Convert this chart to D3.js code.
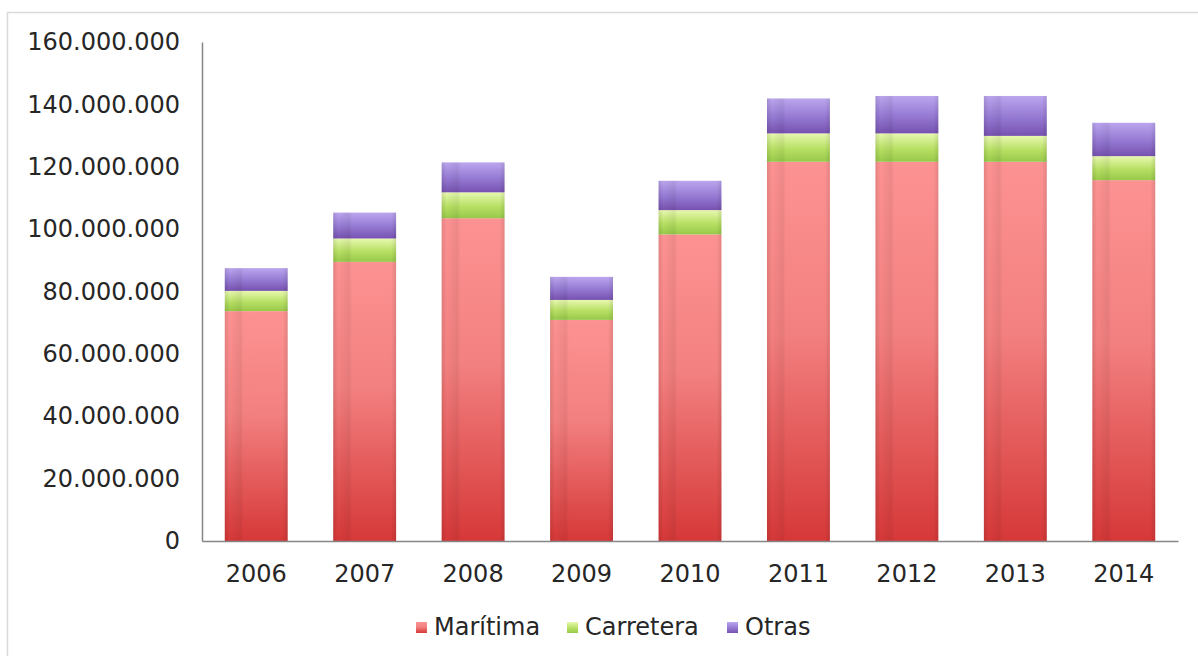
<!DOCTYPE html>
<html>
<head>
<meta charset="utf-8">
<script src="https://cdn.jsdelivr.net/npm/d3@7"></script>
<style>
  html, body { margin: 0; padding: 0; background: #fff; }
  svg { display: block; font-family: "DejaVu Sans", Verdana, sans-serif; }
</style>
</head>
<body>
<svg id="chart" width="1198" height="656"></svg>
<script>
// Tráfico por modo de transporte, 2006-2014
const years = ["2006", "2007", "2008", "2009", "2010", "2011", "2012", "2013", "2014"];
const maritima  = [73.7e6, 89.5e6, 103.5e6, 70.9e6, 98.3e6, 121.6e6, 121.6e6, 121.6e6, 115.7e6];
const carretera = [6.5e6, 7.5e6, 8.3e6, 6.4e6, 7.8e6, 9.1e6, 9.1e6, 8.3e6, 7.7e6];
const otras     = [7.3e6, 8.3e6, 9.6e6, 7.4e6, 9.4e6, 11.2e6, 12.0e6, 12.8e6, 10.7e6];
const seriesNames = ["Marítima", "Carretera", "Otras"];
const yTicks = [0, 20e6, 40e6, 60e6, 80e6, 100e6, 120e6, 140e6, 160e6];

const W = 1198, H = 656;
const m = { left: 202, right: 20, top: 42, bottom: 115 };
const FONT = "'DejaVu Sans', Verdana, sans-serif";
const FS = 24;

const svg = d3.select("#chart");
const defs = svg.append("defs");

// vertical gradients for each series (light at top, deeper at bottom)
const grads = [
  { id: "g-mar", stops: [["0%", "#fd9292"], ["45%", "#f38080"], ["100%", "#d63838"]] },
  { id: "g-car", stops: [["0%", "#e8f8b0"], ["55%", "#b7e063"], ["100%", "#98c94a"]] },
  { id: "g-otr", stops: [["0%", "#bba6ee"], ["55%", "#9478d2"], ["100%", "#7752b0"]] }
];
grads.forEach(g => {
  const lg = defs.append("linearGradient").attr("id", g.id)
    .attr("x1", 0).attr("y1", 0).attr("x2", 0).attr("y2", 1);
  g.stops.forEach(([o, c]) => lg.append("stop").attr("offset", o).attr("stop-color", c));
});
// soft horizontal shading across each column
const shade = defs.append("linearGradient").attr("id", "g-shade")
  .attr("x1", 0).attr("y1", 0).attr("x2", 1).attr("y2", 0);
[["0%", 0.10], ["8%", 0.0], ["25%", 0.06], ["30%", 0.0], ["92%", 0.0], ["100%", 0.10]].forEach(([o, a]) =>
  shade.append("stop").attr("offset", o).attr("stop-color", "#000").attr("stop-opacity", a));

// outer frame
svg.append("rect")
  .attr("x", 7.5).attr("y", 12.5).attr("width", W + 10).attr("height", H + 10)
  .attr("fill", "none").attr("stroke", "#d9d9d9").attr("stroke-width", 1.5);

const x = d3.scaleBand().domain(years).range([m.left, W - m.right]).paddingInner(0.42).paddingOuter(0.21);
// zero line sits at y = 541
const y = d3.scaleLinear().domain([0, 160e6]).range([541, m.top]);

const table = years.map((yr, i) => ({ year: yr, "Marítima": maritima[i], "Carretera": carretera[i], "Otras": otras[i] }));
const stacked = d3.stack().keys(seriesNames)(table);
const fills = ["url(#g-mar)", "url(#g-car)", "url(#g-otr)"];

const layers = svg.append("g").selectAll("g").data(stacked).join("g")
  .attr("fill", (d, i) => fills[i]);
layers.selectAll("rect").data(d => d).join("rect")
  .attr("x", d => x(d.data.year))
  .attr("width", x.bandwidth())
  .attr("y", d => y(d[1]))
  .attr("height", d => y(d[0]) - y(d[1]));

// column shading overlay
const total = d => d["Marítima"] + d["Carretera"] + d["Otras"];
svg.append("g").selectAll("rect").data(table).join("rect")
  .attr("x", d => x(d.year))
  .attr("width", x.bandwidth())
  .attr("y", d => y(total(d)))
  .attr("height", d => y(0) - y(total(d)))
  .attr("fill", "url(#g-shade)");

// axes
const fmt = v => d3.format(",")(v).replace(/,/g, ".");
const yAxis = d3.axisLeft(y).tickValues(yTicks).tickFormat(fmt).tickSize(0).tickPadding(22);
const gy = svg.append("g").attr("transform", `translate(${m.left},0)`).call(yAxis)
  .attr("font-family", FONT).attr("font-size", FS);
gy.select(".domain").attr("stroke", "#868686").attr("stroke-width", 1.5);
gy.selectAll("text").attr("fill", "#262626");

const xAxis = d3.axisBottom(x).tickSize(0).tickPadding(24);
const gx = svg.append("g").attr("transform", `translate(0,541)`).call(xAxis)
  .attr("font-family", FONT).attr("font-size", FS);
gx.select(".domain").attr("stroke", "#868686").attr("stroke-width", 1.5);
gx.selectAll("text").attr("fill", "#262626");

// legend
const legend = svg.append("g").attr("font-family", FONT).attr("font-size", FS).attr("fill", "#262626");
const legX = [416, 567, 727];
seriesNames.forEach((name, i) => {
  const g = legend.append("g").attr("transform", `translate(${legX[i]},627)`);
  g.append("rect").attr("x", 0).attr("y", -5).attr("width", 11).attr("height", 11).attr("fill", fills[i]);
  g.append("text").attr("x", 18).attr("y", 0).attr("dy", "0.35em").text(name);
});
</script>
</body>
</html>
